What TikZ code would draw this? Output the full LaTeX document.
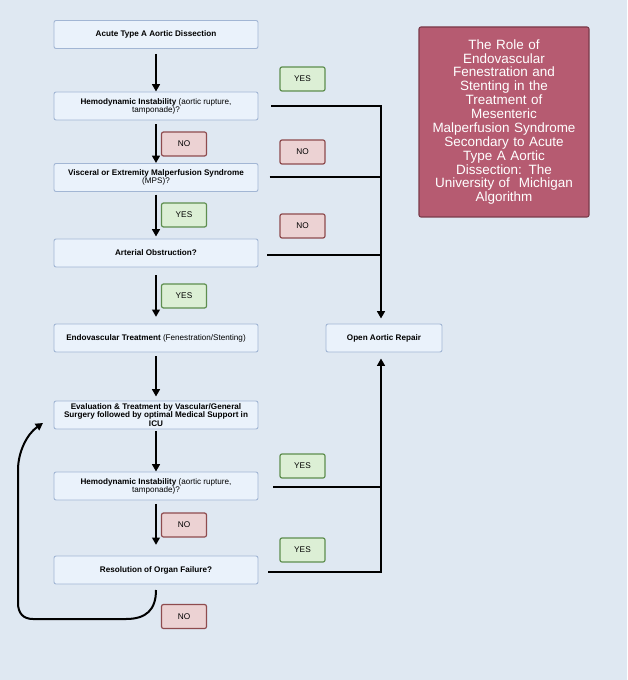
\documentclass[tikz,border=0pt]{standalone}
\usepackage{fontspec}
\setmainfont{Liberation Sans}
\usetikzlibrary{arrows.meta}
\definecolor{bg}{HTML}{DFE8F2}
\definecolor{boxfill}{HTML}{EAF2FB}
\definecolor{boxline}{HTML}{A2B6D4}
\definecolor{yesfill}{HTML}{DCEFD5}
\definecolor{yesline}{HTML}{5E8E4F}
\definecolor{nofill}{HTML}{ECD2D3}
\definecolor{noline}{HTML}{8E4B4E}
\definecolor{titlefill}{HTML}{B65B71}
\definecolor{titleline}{HTML}{7A3A4A}
\begin{document}
\begin{tikzpicture}[x=0.75pt,y=-0.75pt,
  flowbox/.style={draw=boxline, fill=boxfill, rounded corners=1.5pt, line width=0.7pt,
    minimum width=153pt, minimum height=21pt, inner sep=1pt, align=center,
    font=\fontsize{6.1}{6.1}\selectfont},
  yeslab/.style={draw=yesline, fill=yesfill, rounded corners=1.5pt, line width=0.9pt,
    minimum width=33.75pt, minimum height=18pt, inner sep=0pt,
    font=\fontsize{6.2}{6.5}\selectfont},
  nolab/.style={yeslab, draw=noline, fill=nofill},
  arr/.style={line width=1.5pt, -{Triangle[length=5.5pt,width=5.8pt]}},
  conn/.style={line width=1.5pt}]
\useasboundingbox (0,0) rectangle (627,680);
\fill[bg] (0,0) rectangle (627,680);

% main boxes
\node[flowbox] (b1) at (156,34.5) {\textbf{Acute Type A Aortic Dissection}};
\node[flowbox] (b2) at (156,106) {\textbf{Hemodynamic Instability} (aortic rupture,\\tamponade)?};
\node[flowbox] (b3) at (156,177.5) {\textbf{Visceral or Extremity Malperfusion Syndrome}\\(MPS)?};
\node[flowbox] (b4) at (156,253) {\textbf{Arterial Obstruction?}};
\node[flowbox] (b5) at (156,338) {\textbf{Endovascular Treatment} (Fenestration/Stenting)};
\node[flowbox] (b6) at (156,415) {\textbf{Evaluation \& Treatment by Vascular/General}\\\textbf{Surgery followed by optimal Medical Support in}\\\textbf{ICU}};
\node[flowbox] (b7) at (156,486) {\textbf{Hemodynamic Instability} (aortic rupture,\\tamponade)?};
\node[flowbox] (b8) at (156,570) {\textbf{Resolution of Organ Failure?}};
\node[flowbox, minimum width=87pt] (open) at (384,338) {\textbf{Open Aortic Repair}};

% title
\node[draw=titleline, fill=titlefill, rounded corners=1.5pt, line width=0.8pt,
  minimum width=127.5pt, minimum height=142.5pt, text width=118pt, inner sep=2pt, align=center,
  text=white, font=\fontsize{10.1}{10.4}\selectfont] (title) at (504,122)
  {The Role of\\Endovascular\\Fenestration and\\Stenting in the\\Treatment of\\Mesenteric\\Malperfusion Syndrome\\Secondary to Acute\\Type A Aortic\\Dissection: The\\University of~ Michigan\\Algorithm};

% labels
\node[yeslab] (l1) at (302.5,79) {YES};
\node[nolab]  (l2) at (184,144) {NO};
\node[nolab]  (l3) at (302.5,152) {NO};
\node[yeslab] (l4) at (184,215) {YES};
\node[nolab]  (l5) at (302.5,226) {NO};
\node[yeslab] (l6) at (184,296) {YES};
\node[yeslab] (l7) at (302.5,466) {YES};
\node[nolab]  (l8) at (184,525) {NO};
\node[yeslab] (l9) at (302.5,550) {YES};
\node[nolab]  (l10) at (184,616.5) {NO};

% down arrows
\draw[arr, shorten <=3.75pt] (b1) -- (b2);
\draw[arr, shorten <=3pt] (b2) -- (b3);
\draw[arr, shorten <=2pt, shorten >=1.5pt] (b3) -- (b4);
\draw[arr, shorten <=6pt, shorten >=5pt] (b4) -- (b5);
\draw[arr, shorten <=3pt, shorten >=3pt] (b5) -- (b6);
\draw[arr, shorten <=1.5pt] (b6) -- (b7);
\draw[arr, shorten <=2.5pt, shorten >=8pt] (b7) -- (b8);

% right side
\coordinate (jx) at (381,0);
\draw[arr, shorten >=3.75pt] ([xshift=9.5pt]b2.east) -- (b2.east -| jx) -- (jx |- open.north);
\draw[conn] ([xshift=8.3pt]b3.east) -- (b3.east -| jx);
\draw[conn] ([xshift=6.5pt,yshift=-1.5pt]b4.east) -- ([yshift=-1.5pt]b4.east -| jx);
\draw[arr, shorten >=4.5pt] ([xshift=7.5pt,yshift=-1.5pt]b8.east) -- ([yshift=-1.5pt]b8.east -| jx) -- (jx |- open.south);
\draw[conn] ([xshift=11.25pt,yshift=-0.75pt]b7.east) -- ([yshift=-0.75pt]b7.east -| jx);

% loop back
\coordinate (ls) at (156,590);
\coordinate (le) at (43,423);
\draw[arr] (ls) .. controls (156,610) and (146,619) .. (126,619) -- (33,619)
  .. controls (23,619) and (18,613) .. (18,603) -- (18,470)
  .. controls (18,452) and (27,434) .. (le);
\end{tikzpicture}
\end{document}
